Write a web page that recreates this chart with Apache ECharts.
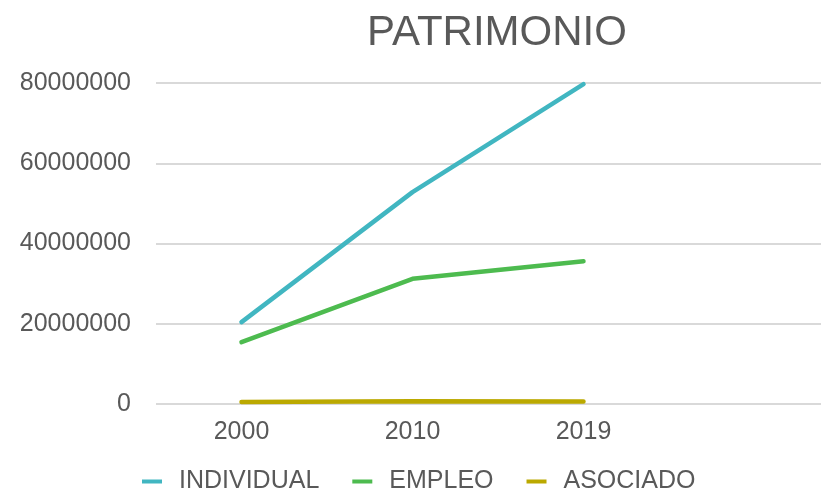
<!DOCTYPE html>
<html>
<head>
<meta charset="utf-8">
<script src="https://cdn.jsdelivr.net/npm/echarts@6/dist/echarts.min.js"></script>
<style>
  html, body { margin: 0; padding: 0; background: #fff; }
  #chart { width: 821px; height: 493px; }
</style>
</head>
<body>
<div id="chart"></div>
<script>
// categorias (la cuarta queda vacia como en el original)
const years = ['2000', '2010', '2019', ''];
const individual = [20400000, 52800000, 79700000];
const empleo = [15400000, 31200000, 35600000];
const asociado = [500000, 700000, 600000];
const seriesNames = ['INDIVIDUAL', 'EMPLEO', 'ASOCIADO'];
const colors = ['#41B6C1', '#4DBB4F', '#BBA900'];

const chart = echarts.init(document.getElementById('chart'));

const mkLine = (name, data, color) => ({
  name: name,
  type: 'line',
  data: data,
  symbol: 'none',
  lineStyle: { width: 4.5, color: color, cap: 'round' },
  itemStyle: { color: color },
});

const option = {
  animation: false,
  textStyle: { fontFamily: 'Liberation Sans' },
  title: {
    text: 'PATRIMONIO',
    left: 492,
    top: 7,
    textAlign: 'center',
    textStyle: { fontSize: 42, fontWeight: 'normal', color: '#595959' },
  },
  legend: {
    data: seriesNames,
    top: 464,
    left: 137,
    itemWidth: 20,
    itemHeight: 4,
    itemGap: 33,
    icon: 'rect',
    formatter: name => '{t|' + name + '}',
    textStyle: {
      fontSize: 25,
      color: '#595959',
      rich: { t: { fontSize: 25, color: '#595959', padding: [0, 0, 0, 12] } },
    },
  },
  grid: { left: 156, top: 83, width: 684, height: 321, outerBoundsMode: 'none' },
  xAxis: {
    type: 'category',
    data: years,
    boundaryGap: true,
    axisLine: { show: false },
    axisTick: { show: false },
    axisLabel: { fontSize: 25, color: '#595959', margin: 16 },
  },
  yAxis: {
    type: 'value',
    min: 0,
    max: 80000000,
    interval: 20000000,
    axisLine: { show: false },
    axisTick: { show: false },
    axisLabel: { fontSize: 25, color: '#595959', margin: 25, formatter: v => String(v) },
    splitLine: { lineStyle: { color: '#D9D9D9', width: 2 } },
  },
  series: [
    mkLine(seriesNames[0], individual, colors[0]),
    mkLine(seriesNames[1], empleo, colors[1]),
    mkLine(seriesNames[2], asociado, colors[2]),
  ],
};

chart.setOption(option);
</script>
</body>
</html>
